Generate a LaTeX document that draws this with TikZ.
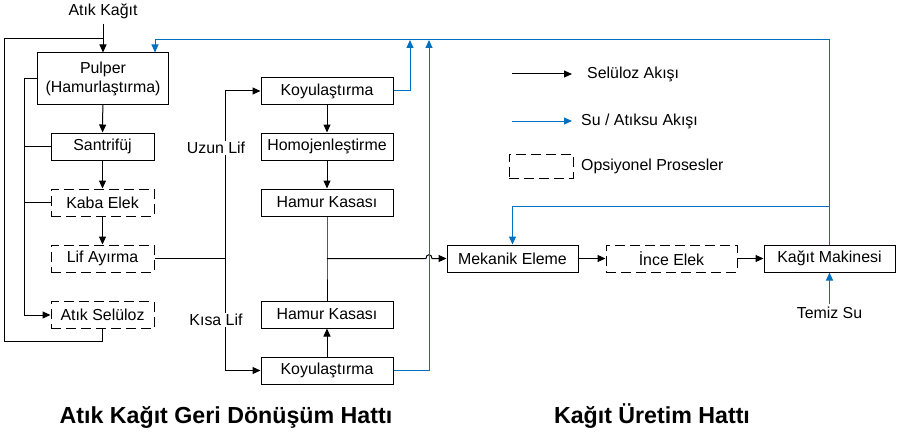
\documentclass[tikz,border=0pt]{standalone}
\usepackage{fontspec}
\setmainfont{Liberation Sans}
\usetikzlibrary{arrows.meta,calc}
\definecolor{wblue}{RGB}{0,112,192}
\begin{document}
\begin{tikzpicture}[x=1pt,y=-1pt,
  font=\fontsize{15.9}{19}\selectfont,
  box/.style={draw=black,line width=1pt,minimum height=27pt,inner sep=0pt,align=center,fill=white},
  dbox/.style={box,dash pattern=on 10pt off 5pt},
  line/.style={draw=black,line width=1pt},
  arr/.style={line,-{Triangle[length=8pt,width=7pt]}},
  bline/.style={draw=wblue,line width=1pt},
  barr/.style={bline,-{Triangle[length=8pt,width=7pt]}},
  lbl/.style={inner sep=1pt,fill=white},
  title/.style={font=\fontsize{23.2}{27}\selectfont\bfseries,inner sep=0pt,anchor=base}
]
\useasboundingbox (0,0) rectangle (900,436);

% left column
\node (atikkagit) [inner sep=5pt] at (103,11) {Atık Kağıt};
\node[box,minimum width=131pt,minimum height=51pt] (pulper) at (103,78.5) {Pulper\\(Hamurlaştırma)};
\node[box,minimum width=103pt] (santrifuj) at (102.5,146.5) {Santrifüj};
\node[dbox,minimum width=103pt] (kaba) at (102.5,202.5) {Kaba Elek};
\node[dbox,minimum width=103pt] (lif) at (102.5,258.5) {Lif Ayırma};
\node[dbox,minimum width=103pt] (atiksel) at (102.5,315) {Atık Selüloz};

% middle column
\node[box,minimum width=132pt] (koy1) at (327,91) {Koyulaştırma};
\node[box,minimum width=132pt] (homo) at (327,146.5) {Homojenleştirme};
\node[box,minimum width=132pt] (hk1) at (327,202.5) {Hamur Kasası};
\node[box,minimum width=132pt] (hk2) at (327,314.5) {Hamur Kasası};
\node[box,minimum width=132pt] (koy2) at (327,370.5) {Koyulaştırma};

% right row
\node[box,minimum width=131pt] (mek) at (512.5,258.5) {Mekanik Eleme};
\node[dbox,minimum width=131pt] (ince) at (671.5,258.5) {İnce Elek};
\node[box,minimum width=131pt] (km) at (829.5,258.5) {Kağıt Makinesi};
\node (temiz) at (829.5,313) {Temiz Su};

% left connectors
\draw[arr] (atikkagit) -- (pulper);
\coordinate (jn) at (103,39);
\coordinate (ol1) at (4,341);
\coordinate (ol2) at (4,39);
\draw[line] (atiksel.south) |- (ol1) -- (ol2) -- (jn);
\coordinate (il) at (24,79);
\draw[arr] (pulper.west) -- (pulper.west -| il) |- (atiksel.west);
\draw[line] (santrifuj.west) -- (santrifuj.west -| il);
\draw[line] (kaba.west) -- (kaba.west -| il);
\draw[arr] (pulper) -- (santrifuj);
\draw[arr] (santrifuj) -- (kaba);
\draw[arr] (kaba) -- (lif);

% split
\coordinate (sp) at (225,258.5);
\draw[line] (lif.east) -- (sp);
\draw[arr] (sp) |- (koy1.west);
\draw[arr] (sp) |- (koy2.west);
\node[lbl] (uzun) at (216,148) {Uzun Lif};
\node[lbl] (kisa) at (216,320) {Kısa Lif};

% middle connectors
\draw[arr] (koy1) -- (homo);
\draw[arr] (homo) -- (hk1);
\coordinate (mj) at (327,258.5);
\draw[line] (hk1) -- (mj) -- (hk2);
\draw[arr] (koy2) -- (hk2);
\coordinate (h1) at (426,258.5);
\coordinate (h2) at (432,258.5);
\draw[arr] (mj) -- (h1) .. controls (426,253.5) and (432,253.5) .. (h2) -- (mek.west);
\draw[arr] (mek) -- (ince);
\draw[arr] (ince) -- (km);

% water lines
\coordinate (t1) at (410,40);
\coordinate (t2) at (429,40);
\draw[barr] (koy1.east) -| (t1);
\draw[barr] (koy2.east) -| (t2);
\coordinate (tp) at (155,40);
\draw[barr] (km.north) |- (tp) -- (tp |- pulper.north);
\coordinate (br) at (829.5,206);
\draw[barr] (br) -| (mek.north);
\draw[barr] (temiz) -- (km);

% legend
\coordinate (la1) at (512,74);
\coordinate (la2) at (572,74);
\draw[arr] (la1) -- (la2);
\node[anchor=west,inner sep=0pt] (lt1) at (587,74) {Selüloz Akışı};
\coordinate (lb1) at (512,121);
\coordinate (lb2) at (572,121);
\draw[barr] (lb1) -- (lb2);
\node[anchor=west,inner sep=0pt] (lt2) at (581,121) {Su / Atıksu Akışı};
\node[dbox,minimum width=64pt,minimum height=24pt] (lgb) at (541,166) {};
\node[anchor=west,inner sep=0pt] (lt3) at (581,166) {Opsiyonel Prosesler};

% titles
\node[title] (tl1) at (226,423) {Atık Kağıt Geri Dönüşüm Hattı};
\node[title] (tl2) at (652,423) {Kağıt Üretim Hattı};
\end{tikzpicture}
\end{document}
